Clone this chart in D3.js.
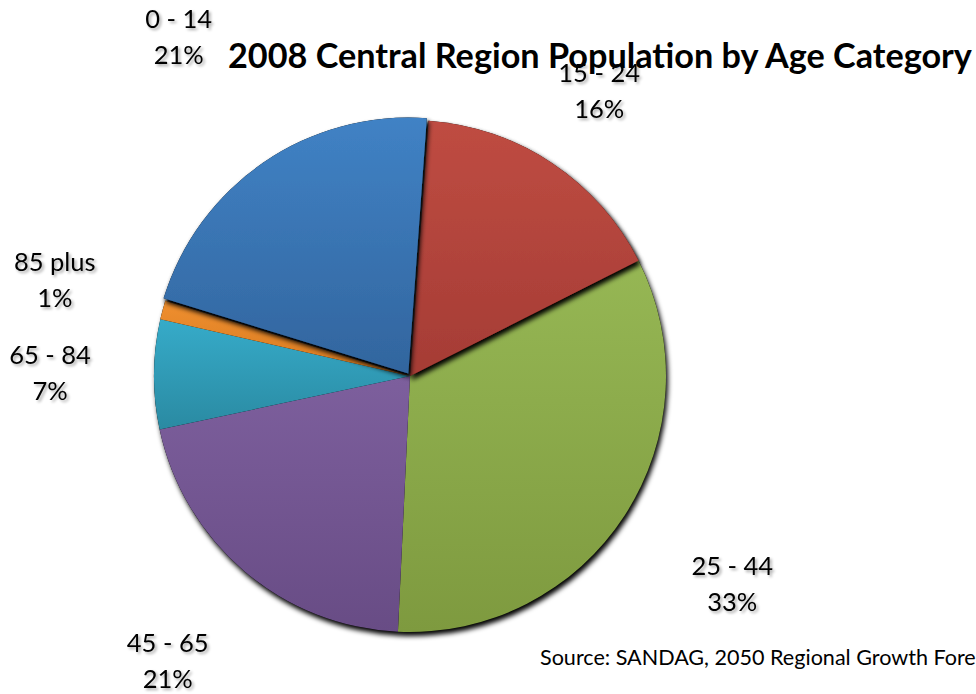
<!DOCTYPE html>
<html>
<head>
<meta charset="utf-8">
<script src="https://cdn.jsdelivr.net/npm/d3@7"></script>
<style>
  html, body { margin: 0; padding: 0; background: #fff; overflow: hidden; }
  svg { display: block; }
  text { font-family: Lato, "Open Sans", sans-serif; fill: #000; }
</style>
</head>
<body>
<svg id="chart" width="976" height="694"></svg>
<script>
// ---- data ----
const categories = ["0 - 14", "15 - 24", "25 - 44", "45 - 65", "65 - 84", "85 plus"];
const values = [21.4, 16.4, 33.2, 20.9, 6.9, 1.2];
const title = "2008 Central Region Population by Age Category";
const source = "Source: SANDAG, 2050 Regional Growth Forecast";

// ---- styles ----
const colorTop = ["#4082c5", "#bf4c42", "#96b754", "#7d5f9d", "#36abc9", "#ef8f2f"];
const colorBot = ["#32659e", "#a53c35", "#7e9a3f", "#684c85", "#2a8aa2", "#d77a20"];
const labelDist = [1.6, 1.333, 1.5, 1.463, 1.406, 1.436];

const W = 976, H = 694;
const cx = 410, cy = 376, R = 256;
const startDeg = -72.9;
const explodeIdx = 0, explodePx = 3;

const svg = d3.select("#chart");
const defs = svg.append("defs");

categories.forEach((c, i) => {
  const g = defs.append("linearGradient").attr("id", "grad" + i)
    .attr("x1", 0).attr("y1", 0).attr("x2", 0).attr("y2", 1);
  g.append("stop").attr("offset", "0%").attr("stop-color", colorTop[i]);
  g.append("stop").attr("offset", "100%").attr("stop-color", colorBot[i]);
});

function shadowFilter(id, sd, dx, dy, op) {
  const f = defs.append("filter").attr("id", id)
    .attr("x", "-20%").attr("y", "-20%").attr("width", "140%").attr("height", "140%");
  f.append("feGaussianBlur").attr("in", "SourceAlpha").attr("stdDeviation", sd).attr("result", "b");
  f.append("feOffset").attr("in", "b").attr("dx", dx).attr("dy", dy).attr("result", "o");
  const ct = f.append("feComponentTransfer").attr("in", "o").attr("result", "s");
  ct.append("feFuncA").attr("type", "linear").attr("slope", op);
  const m = f.append("feMerge");
  m.append("feMergeNode").attr("in", "s");
  m.append("feMergeNode").attr("in", "SourceGraphic");
}
shadowFilter("pieShadow", 2.5, 2, 3.5, 1);
shadowFilter("textShadow", 1.5, 2, 2, 0.35);

const rad = d => d * Math.PI / 180;
const pie = d3.pie().sort(null).value(d => d.v)
  .startAngle(rad(startDeg)).endAngle(rad(startDeg + 360));
const data = pie(categories.map((c, i) => ({ c, v: values[i], i })));
const arc = d3.arc().innerRadius(0).outerRadius(R);

const pieG = svg.append("g").attr("transform", `translate(${cx},${cy})`);

function offsetOf(d) {
  if (d.data.i !== explodeIdx) return [0, 0];
  const a = (d.startAngle + d.endAngle) / 2;
  return [Math.sin(a) * explodePx, -Math.cos(a) * explodePx];
}

// base shadow for the whole pie
pieG.append("g").attr("filter", "url(#pieShadow)")
  .selectAll("path").data(data).join("path")
  .attr("d", arc).attr("fill", "#000")
  .attr("transform", d => `translate(${offsetOf(d)})`);

// draw order: flat slices first, then red, then exploded blue (cast shadows)
const order = [2, 3, 4, 5, 1, 0];
const shadowed = new Set([1, 0]);
order.forEach(i => {
  const d = data[i];
  pieG.append("path")
    .attr("d", arc(d))
    .attr("fill", `url(#grad${i})`)
    .attr("transform", `translate(${offsetOf(d)})`)
    .attr("filter", shadowed.has(i) ? "url(#pieShadow)" : null);
});

// labels
const labelG = svg.append("g").attr("filter", "url(#textShadow)");
data.forEach((d, i) => {
  const a = (d.startAngle + d.endAngle) / 2;
  const r = R * labelDist[i];
  const x = cx + Math.sin(a) * r;
  const y = cy - Math.cos(a) * r;
  const t = labelG.append("text").attr("text-anchor", "middle").attr("font-size", 25.5);
  t.append("tspan").attr("x", x).attr("y", y - 10).text(categories[i]);
  t.append("tspan").attr("x", x).attr("y", y + 26).text(Math.round(values[i]) + "%");
});

// title, fitted to width
const tt = svg.append("text").attr("x", 228).attr("y", 68)
  .attr("font-size", 30).attr("font-weight", "bold").text(title);
const tw = tt.node().getComputedTextLength();
tt.attr("font-size", 30 * 744 / tw);

// source
const st = svg.append("text").attr("x", 540).attr("y", 665).attr("font-size", 20)
  .text("Source: SANDAG, 2050 Regional Growth Fore");
const sw = st.node().getComputedTextLength();
st.attr("font-size", 20 * 436 / sw).text(source);
</script>
</body>
</html>
